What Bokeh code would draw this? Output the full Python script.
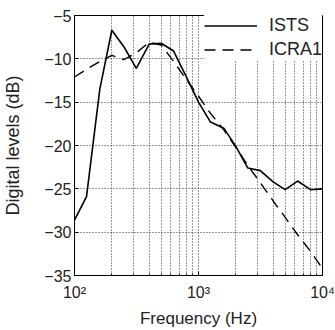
from bokeh.plotting import figure
from bokeh.models import Legend, LegendItem, FixedTicker, CustomJSTickFormatter
from bokeh.embed import file_html
from bokeh.resources import INLINE

# Third-octave band centre frequencies (Hz)
freq = [100, 125, 160, 200, 250, 315, 400, 500, 630, 800, 1000,
        1250, 1600, 2000, 2500, 3150, 4000, 5000, 6300, 8000, 10000]
# Digital levels (dB)
ists = [-28.6, -25.9, -13.5, -6.7, -8.6, -11.1, -8.3, -8.2, -9.1, -12.1, -15.0,
        -17.3, -18.0, -20.1, -22.6, -22.9, -24.2, -25.1, -24.1, -25.1, -25.0]
icra1 = [-12.1, -11.2, -10.3, -9.6, -10.1, -9.3, -8.1, -8.4, -10.3, -12.4, -14.3,
         -16.3, -18.2, -20.2, -22.3, -24.3, -26.4, -28.3, -30.3, -32.2, -34.2]

y_ticks = [-35, -30, -25, -20, -15, -10, -5]
x_ticks = [100, 1000, 10000]
x_tick_labels = ["10²", "10³", "10⁴"]
x_minor = [m * 10 ** e for e in (2, 3) for m in range(2, 10)]

FONT = "Liberation Sans"

p = figure(width=335, height=330, x_axis_type="log",
           x_range=(100, 10000), y_range=(-35, -5),
           output_backend="svg", toolbar_location=None,
           min_border_left=74, min_border_right=13,
           min_border_top=15, min_border_bottom=52)

p.background_fill_color = "white"
p.border_fill_color = "white"
p.outline_line_color = "black"
p.outline_line_width = 1

r1 = p.line(freq, ists, line_color="black", line_width=1.6)
r2 = p.line(freq, icra1, line_color="black", line_width=1.4, line_dash="11 7")

p.xaxis.ticker = FixedTicker(ticks=x_ticks, minor_ticks=x_minor)
label_map = {str(t): l for t, l in zip(x_ticks, x_tick_labels)}
p.xaxis.formatter = CustomJSTickFormatter(args=dict(m=label_map), code="""
    const k = String(Math.round(tick));
    return (k in m) ? m[k] : '';
""")
p.yaxis.ticker = FixedTicker(ticks=y_ticks)

for ax in (p.xaxis[0], p.yaxis[0]):
    ax.axis_line_color = "black"
    ax.major_tick_line_color = "black"
    ax.major_tick_in = 4
    ax.major_tick_out = 0
    ax.minor_tick_in = 2
    ax.minor_tick_out = 0
    ax.major_label_text_font = FONT
    ax.major_label_text_font_size = "16px"
    ax.major_label_text_color = "#222222"
    ax.axis_label_text_font = FONT
    ax.axis_label_text_font_style = "normal"
    ax.axis_label_text_color = "#222222"

p.yaxis.minor_tick_line_color = None
p.yaxis.major_label_standoff = 3
p.yaxis.axis_label = "Digital levels (dB)"
p.yaxis.axis_label_text_font_size = "18px"
p.yaxis.axis_label_standoff = 18

p.xaxis.major_label_standoff = 8
p.xaxis.axis_label = "Frequency (Hz)"
p.xaxis.axis_label_text_font_size = "17px"
p.xaxis.axis_label_standoff = 5

GRID = "#333333"
p.xgrid.grid_line_color = GRID
p.xgrid.grid_line_dash = "1 2"
p.xgrid.grid_line_width = 1
p.xgrid.minor_grid_line_color = GRID
p.xgrid.minor_grid_line_dash = "1 2"
p.ygrid.grid_line_color = GRID
p.ygrid.grid_line_dash = "1 2"

legend = Legend(items=[LegendItem(label="ISTS", renderers=[r1]),
                       LegendItem(label="ICRA1", renderers=[r2])],
                location="top_right")
legend.margin = 0
legend.padding = 6
legend.spacing = 3
legend.glyph_width = 53
legend.glyph_height = 21
legend.label_height = 21
legend.label_standoff = 12
legend.label_text_font = FONT
legend.label_text_font_size = "18px"
legend.label_text_color = "#222222"
legend.border_line_color = None
legend.background_fill_color = "white"
legend.background_fill_alpha = 1.0
p.add_layout(legend)

open("out.html", "w").write(file_html(p, INLINE))
